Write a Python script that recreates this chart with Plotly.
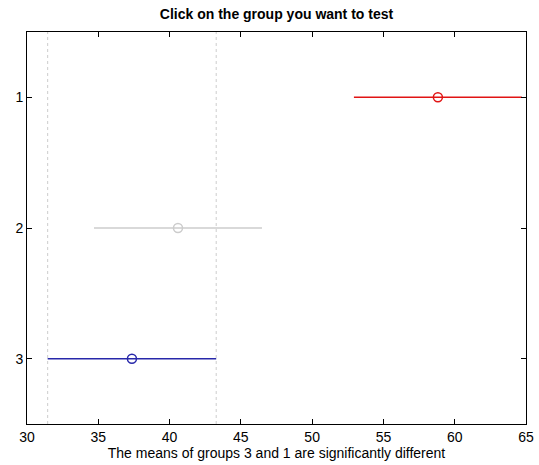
import plotly.graph_objects as go

groups = [1, 2, 3]
means = [58.82, 40.59, 37.36]
lower = [52.93, 34.70, 31.45]
upper = [64.71, 46.48, 43.27]
colors = ["rgb(225,20,20)", "rgb(204,204,204)", "rgb(40,40,170)"]
selected = 2  # index of group 3 (the tested group)
x_ticks = [30, 35, 40, 45, 50, 55, 60, 65]

fig = go.Figure()

for g, m, lo, hi, c in zip(groups, means, lower, upper, colors):
    fig.add_trace(go.Scatter(x=[lo, hi], y=[g, g], mode="lines",
                             line=dict(color=c, width=1.5), hoverinfo="skip",
                             showlegend=False))
    fig.add_trace(go.Scatter(x=[m], y=[g], mode="markers",
                             marker=dict(symbol="circle-open", size=9,
                                         color=c, line=dict(width=1.5, color=c)),
                             showlegend=False))

for xv in (lower[selected], upper[selected]):
    fig.add_shape(type="line", xref="x", yref="paper", x0=xv, x1=xv, y0=0, y1=1,
                  line=dict(color="rgb(205,205,205)", width=1, dash="dot"),
                  layer="below")

fig.update_layout(
    width=539, height=465,
    margin=dict(l=27, r=13, t=32, b=41, autoexpand=False),
    paper_bgcolor="white", plot_bgcolor="white",
    font=dict(family="Liberation Sans, Arial, sans-serif", size=14, color="black"),
    title=dict(text="<b>Click on the group you want to test</b>",
               x=0.5, xanchor="center", xref="paper",
               y=1 - 14 / 465, yanchor="middle", yref="container",
               font=dict(size=14, color="black")),
    xaxis=dict(range=[30, 65], tickvals=x_ticks, ticks="inside", ticklen=5,
               tickcolor="black", showline=True, linecolor="black", linewidth=1,
               mirror="allticks", showgrid=False, zeroline=False, automargin=False,
               tickfont=dict(size=14),
               title=dict(text="The means of groups 3 and 1 are significantly different",
                          standoff=3, font=dict(size=14))),
    yaxis=dict(range=[3.5, 0.5], tickvals=groups, ticks="inside", ticklen=5,
               tickcolor="black", showline=True, linecolor="black", linewidth=1,
               mirror="allticks", showgrid=False, zeroline=False, automargin=False,
               tickfont=dict(size=14)),
)

fig.write_html("out.html")
